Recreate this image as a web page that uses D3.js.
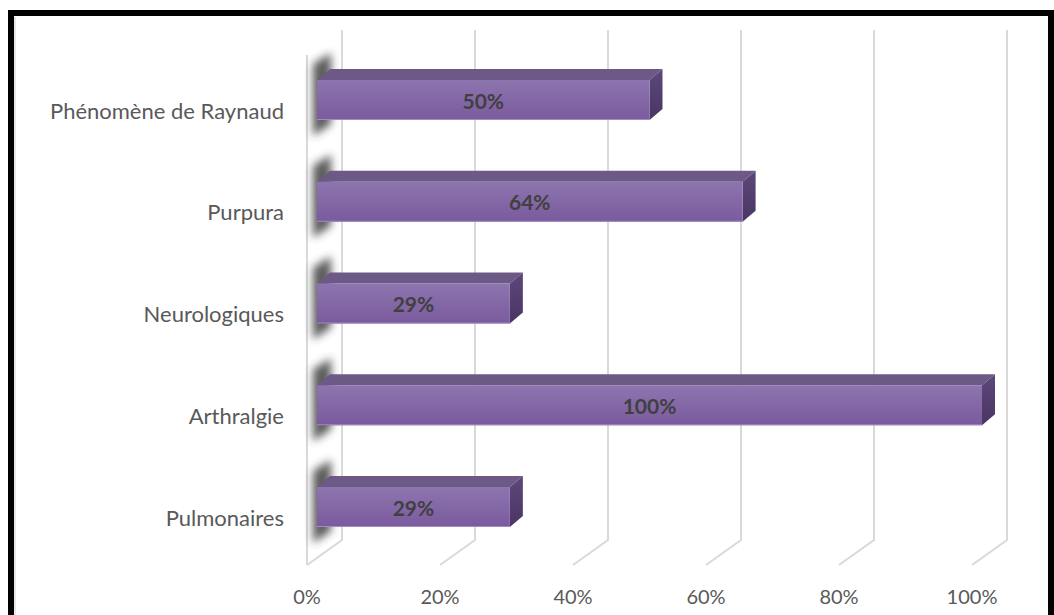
<!DOCTYPE html>
<html>
<head>
<meta charset="utf-8">
<script src="https://cdn.jsdelivr.net/npm/d3@7/dist/d3.min.js"></script>
<style>
  html, body { margin: 0; padding: 0; background: #fff; }
  svg { display: block; }
</style>
</head>
<body>
<svg id="chart" width="1054" height="615"></svg>
<script>
// Manifestations cliniques (share of patients)
const categories = ["Phénomène de Raynaud", "Purpura", "Neurologiques", "Arthralgie", "Pulmonaires"];
const values = [0.50, 0.64, 0.29, 1.00, 0.29];
const tickValues = [0, 0.2, 0.4, 0.6, 0.8, 1.0];
const tickLabels = ["0%", "20%", "40%", "60%", "80%", "100%"];

const svg = d3.select("#chart");
const font = "Lato, 'Open Sans', sans-serif";
const textColor = "#595959";

// 3D geometry: front plane origin, depth vector to back wall
const frontX0 = 307, wallTop = 30, wallBottom = 540;
const depth = { dx: 35, dy: -25 };
const barInset = 10;           // bar front face sits slightly inside the floor
const barDepth = { dx: 13, dy: -11 };
const barH = 40;

const x = d3.scaleLinear().domain([0, 1]).range([0, 665]);
const y = d3.scalePoint().domain(categories).range([100, 507]);

const defs = svg.append("defs");
const front = defs.append("linearGradient").attr("id", "frontGrad")
  .attr("x1", 0).attr("y1", 0).attr("x2", 0).attr("y2", 1);
front.append("stop").attr("offset", "0%").attr("stop-color", "#8d75af");
front.append("stop").attr("offset", "100%").attr("stop-color", "#7a5a9d");
const side = defs.append("linearGradient").attr("id", "sideGrad")
  .attr("x1", 0).attr("y1", 0).attr("x2", 0).attr("y2", 1);
side.append("stop").attr("offset", "0%").attr("stop-color", "#5c4879");
side.append("stop").attr("offset", "100%").attr("stop-color", "#4a3565");
defs.append("filter").attr("id", "blur").attr("x", "-100%").attr("y", "-50%")
  .attr("width", "300%").attr("height", "200%")
  .append("feGaussianBlur").attr("stdDeviation", 4.5);

// outer frame
svg.append("rect").attr("x", 11).attr("y", 13).attr("width", 1040).attr("height", 620)
  .attr("fill", "none").attr("stroke", "#000").attr("stroke-width", 6);
svg.append("line").attr("x1", 15).attr("x2", 15).attr("y1", 17).attr("y2", 615)
  .attr("stroke", "#d0d0d0").attr("stroke-width", 1);

// gridlines: back wall verticals + floor diagonals
const grid = svg.append("g").attr("stroke", "#d9d9d9").attr("stroke-width", 2).attr("fill", "none");
tickValues.forEach(v => {
  const bx = frontX0 + depth.dx + x(v);
  grid.append("path").attr("d",
    `M${bx},${wallTop}L${bx},${wallBottom}L${bx - depth.dx},${wallBottom - depth.dy}`);
});
// left side wall front edge
grid.append("line").attr("x1", frontX0).attr("x2", frontX0)
  .attr("y1", wallTop - depth.dy).attr("y2", wallBottom - depth.dy);

// bars
const bx0 = frontX0 + barInset;
const bars = svg.append("g").selectAll("g").data(categories).join("g");

bars.each(function(c, i) {
  const g = d3.select(this);
  const top = y(c) - barH / 2, bot = y(c) + barH / 2;
  const w = x(values[i]);
  // shadow on the side wall
  g.append("path")
    .attr("d", `M313,${top - 16}L331,${top - 27}L331,${bot + 4}L313,${bot + 16}Z`)
    .attr("fill", "#333").attr("opacity", 0.8).attr("filter", "url(#blur)");
  // top face
  g.append("path")
    .attr("d", `M${bx0},${top}L${bx0 + barDepth.dx},${top + barDepth.dy}L${bx0 + w + barDepth.dx},${top + barDepth.dy}L${bx0 + w},${top}Z`)
    .attr("fill", "#6c5986");
  // side face
  g.append("path")
    .attr("d", `M${bx0 + w},${top}L${bx0 + w + barDepth.dx},${top + barDepth.dy}L${bx0 + w + barDepth.dx},${bot + barDepth.dy}L${bx0 + w},${bot}Z`)
    .attr("fill", "url(#sideGrad)");
  // front face
  g.append("rect").attr("x", bx0).attr("y", top).attr("width", w).attr("height", barH)
    .attr("fill", "url(#frontGrad)");
  g.append("line").attr("x1", bx0).attr("x2", bx0 + w).attr("y1", bot - 0.5).attr("y2", bot - 0.5)
    .attr("stroke", "#9f8cc0").attr("stroke-width", 1);
  // value label
  g.append("text").attr("x", bx0 + w / 2).attr("y", y(c))
    .attr("text-anchor", "middle").attr("dominant-baseline", "central")
    .attr("font-family", font).attr("font-weight", "bold").attr("font-size", 21)
    .attr("fill", "#404040").text(d3.format(".0%")(values[i]));
});

// category labels
svg.append("g").selectAll("text").data(categories).join("text")
  .attr("x", 284).attr("y", d => y(d) + 10)
  .attr("text-anchor", "end").attr("dominant-baseline", "central")
  .attr("font-family", font).attr("font-size", 22).attr("fill", textColor)
  .text(d => d);

// value axis labels
svg.append("g").selectAll("text").data(tickValues).join("text")
  .attr("x", d => frontX0 + x(d)).attr("y", 596)
  .attr("text-anchor", "middle").attr("dominant-baseline", "central")
  .attr("font-family", font).attr("font-size", 20).attr("fill", textColor)
  .text((d, i) => tickLabels[i]);
</script>
</body>
</html>
